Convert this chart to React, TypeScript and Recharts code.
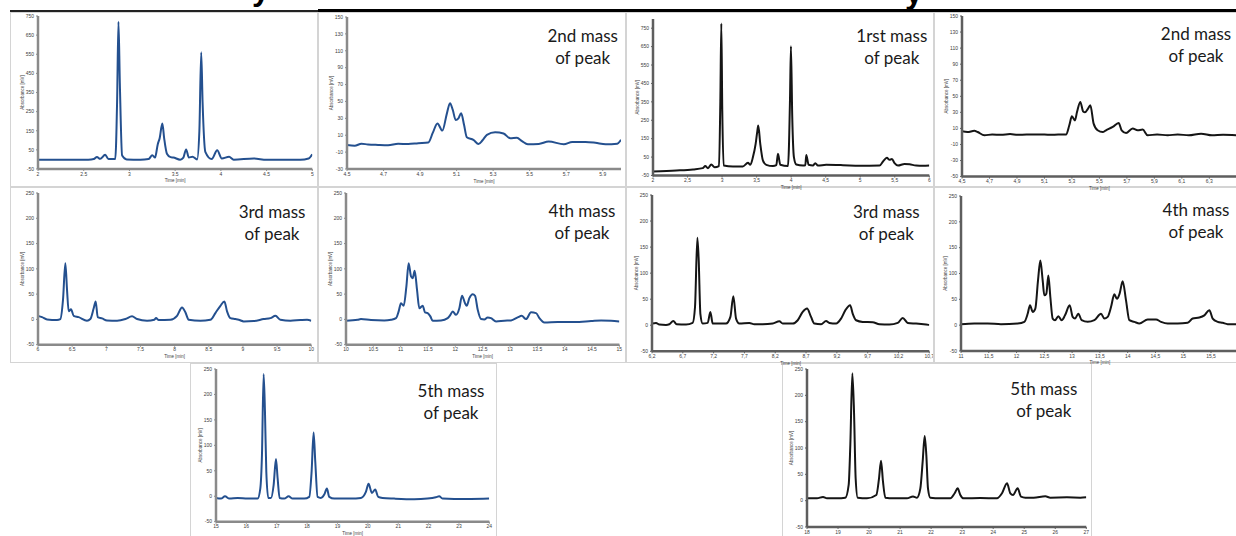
import React from "react";
import { LineChart, Line, XAxis, YAxis } from "recharts";

const BLUE = "#24508f";
const BLACK = "#151515";

// blue trace, first mass of peak (unlabelled panel)
const A_TIME = [2.0, 2.3, 2.55, 2.61, 2.645, 2.68, 2.735, 2.77, 2.845, 2.865, 2.88, 2.895, 2.92, 2.97, 3.12, 3.21, 3.25, 3.28, 3.31, 3.33, 3.36, 3.38, 3.41, 3.45, 3.48, 3.555, 3.59, 3.62, 3.65, 3.69, 3.74, 3.765, 3.785, 3.8, 3.83, 3.9, 3.96, 4.01, 4.09, 4.14, 4.36, 4.5, 4.87, 4.96, 5.0];
const A_ABS = [-1, -2, -1, 2, 13, 3, 25, 2, 2, 300, 720, 400, 20, 0, -1, 2, 22, 10, 80, 110, 188, 110, 30, 12, 10, -1, 10, 52, 10, 14, 0, 150, 560, 300, 40, 2, 48, 5, 14, -1, 5, -2, -2, 5, 27];

// blue trace, 2nd mass
const B_TIME = [4.5, 4.542, 4.579, 4.615, 4.67, 4.725, 4.78, 4.835, 4.89, 4.945, 4.97, 4.995, 5.022, 5.046, 5.064, 5.079, 5.095, 5.11, 5.125, 5.141, 5.156, 5.192, 5.22, 5.242, 5.266, 5.311, 5.357, 5.394, 5.43, 5.458, 5.49, 5.55, 5.604, 5.687, 5.733, 5.806, 5.86, 5.916, 5.98, 6.0];
const B_ABS = [-1.5, -2.5, 0, -1, -1.5, -1.8, 0, -0.5, 0.5, 1.3, 13, 24, 15.5, 35, 48, 40, 28, 30, 36, 22, 7.6, 4.5, -0.3, 4, 10.4, 13.5, 12, 6.4, 7, 3, -0.7, -0.3, 2.5, -0.7, 2, 2, 1, -0.7, 0, 4.5];

// black trace, 1rst mass
const C_TIME = [2.0, 2.338, 2.58, 2.72, 2.757, 2.796, 2.844, 2.892, 2.955, 2.975, 2.989, 3.003, 3.023, 3.158, 3.3, 3.375, 3.409, 3.447, 3.486, 3.51, 3.524, 3.553, 3.592, 3.64, 3.737, 3.785, 3.809, 3.843, 3.954, 3.983, 3.997, 4.016, 4.04, 4.074, 4.171, 4.205, 4.219, 4.253, 4.315, 4.349, 4.388, 4.508, 4.75, 4.99, 5.28, 5.33, 5.386, 5.425, 5.459, 5.497, 5.546, 5.642, 5.714, 5.81, 5.907, 6.0];
const C_ABS = [-28, -23, -17, -10, 1, -10, 10, -5, 1, 357, 775, 300, 4, -1, -1, 19, 8, 50, 122, 190, 221, 122, 31, 8, 1, 6, 68, 8, 1, 357, 652, 267, 50, 10, 4, 6, 62, 8, 4, 17, 4, 8, 6, 2.5, 4, 26, 46, 35, 40, 17, 4, 13, 11, 4, 3, 4];

// black trace, 2nd mass
const D_TIME = [4.5, 4.54, 4.59, 4.614, 4.663, 4.72, 4.784, 4.85, 4.905, 4.97, 5.026, 5.1, 5.148, 5.2, 5.257, 5.281, 5.3, 5.322, 5.337, 5.361, 5.382, 5.395, 5.415, 5.434, 5.458, 5.487, 5.524, 5.548, 5.597, 5.64, 5.662, 5.694, 5.742, 5.778, 5.815, 5.851, 5.92, 5.997, 6.07, 6.15, 6.24, 6.32, 6.4, 6.497];
const D_ABS = [6.4, 5.5, 7, 5.5, 1.4, 2.5, 2, 3, 2, 2.5, 2.3, 2.5, 2, 2.5, 2.3, 13.9, 25, 20, 30.4, 43, 31, 30, 34, 38.8, 16, 7.7, 5.5, 7.7, 11.8, 16.8, 7.7, 4.3, 9.8, 7.7, 8.5, 1.4, 2.5, 1.4, 2.5, 1.4, 3.5, 1.4, 2, 1.4];

// blue trace, 3rd mass
const E_TIME = [6.0, 6.059, 6.132, 6.278, 6.327, 6.366, 6.4, 6.425, 6.449, 6.483, 6.522, 6.595, 6.717, 6.766, 6.815, 6.844, 6.874, 6.937, 7.01, 7.157, 7.279, 7.376, 7.45, 7.596, 7.703, 7.728, 7.767, 7.938, 8.035, 8.108, 8.157, 8.206, 8.377, 8.523, 8.596, 8.67, 8.728, 8.767, 8.816, 8.889, 8.938, 9.011, 9.158, 9.304, 9.402, 9.475, 9.548, 9.694, 9.84, 9.938, 10.0];
const E_ABS = [7, 4.6, 0, -1, 0.7, 39, 111, 58, 16, 20, 7, 4.6, -2.6, 0.7, 22, 35.5, 4.6, 2, -2, -2.6, 0.7, 6, 0.7, -2.6, -0.7, 2.6, -1.3, -0.7, 7, 23.7, 14, -0.7, -2.6, -0.7, 12.5, 27, 35.5, 16, 2.6, 0.7, -0.7, -4, -3.3, 0.7, 2.6, 7, -0.7, -2.6, -1.3, -0.7, -2.6];

// blue trace, 4th mass
const F_TIME = [10.0, 10.213, 10.274, 10.457, 10.7, 10.823, 10.915, 10.963, 11.006, 11.055, 11.104, 11.146, 11.189, 11.22, 11.256, 11.299, 11.341, 11.402, 11.445, 11.494, 11.543, 11.585, 11.738, 11.86, 11.909, 11.951, 12.012, 12.073, 12.122, 12.177, 12.207, 12.256, 12.317, 12.36, 12.409, 12.47, 12.53, 12.591, 12.652, 12.744, 12.896, 13.018, 13.14, 13.213, 13.293, 13.384, 13.476, 13.537, 13.628, 13.872, 14.177, 14.482, 14.665, 14.848, 15.0];
const F_ABS = [-2.6, -0.7, 0.7, -1.3, -2, -0.7, 2.6, 15.8, 32, 27, 65, 111, 85, 81.6, 96, 58.5, 22, 27, 14, 12.5, 6, -2.6, -2, 2.6, 9, 15.8, 9, 22, 46.7, 32, 27, 42, 50, 46.7, 19, 0.7, 0, 4, 2.6, -4, -2.6, -2, 4, 7, 0.7, 14, 12.5, 2.6, -6, -5.3, -5.3, -3.3, -2, -2.6, -4];

// black trace, 3rd mass
const G_TIME = [6.2, 6.265, 6.319, 6.427, 6.481, 6.546, 6.6, 6.752, 6.86, 6.898, 6.936, 6.958, 6.985, 7.022, 7.104, 7.147, 7.185, 7.293, 7.401, 7.472, 7.52, 7.564, 7.618, 7.78, 7.861, 7.997, 8.159, 8.267, 8.321, 8.484, 8.565, 8.646, 8.716, 8.781, 8.835, 8.944, 9.025, 9.079, 9.187, 9.268, 9.339, 9.415, 9.458, 9.512, 9.62, 9.782, 9.891, 10.053, 10.188, 10.269, 10.35, 10.486, 10.648, 10.7];
const G_ABS = [3.2, 4.5, 1.3, 0.6, 1.9, 8.3, 1.9, 1.3, 4.5, 35, 168, 125, 22, 3.2, 4.5, 25.6, 3.2, 3.2, 3.2, 16, 55.8, 12.8, 3.2, 4.5, 1.9, 1.9, 3.2, 7.7, 3.2, 3.2, 9.6, 25.6, 32, 16, 3.2, 1.9, 8.3, 4.5, 3.2, 12.8, 29, 38.5, 22, 9.6, 6.4, 5.8, 1.9, 1.3, 4.5, 14, 4.5, 3.2, 1.3, 0.6];

// black trace, 4th mass
const H_TIME = [11.0, 11.24, 11.48, 11.72, 12.02, 12.14, 12.2, 12.242, 12.29, 12.338, 12.386, 12.428, 12.47, 12.5, 12.536, 12.572, 12.608, 12.65, 12.692, 12.752, 12.812, 12.872, 12.956, 13.01, 13.052, 13.112, 13.172, 13.28, 13.4, 13.52, 13.58, 13.64, 13.7, 13.76, 13.807, 13.855, 13.91, 13.97, 14.03, 14.12, 14.21, 14.36, 14.51, 14.6, 14.72, 14.9, 15.08, 15.17, 15.29, 15.38, 15.47, 15.53, 15.62, 15.71, 15.8, 15.955];
const H_ABS = [1.9, 3.2, 3.2, 1.9, 3.2, 6.4, 22, 38.5, 25.6, 32, 86.5, 125, 86.5, 57.7, 61, 96, 54.5, 12.8, 9.6, 17.3, 9.6, 19, 38.5, 16, 12.8, 22, 9.6, 6.4, 9.6, 22, 12.8, 16, 35, 59.6, 51, 61, 85, 48, 9.6, 6.4, 3.2, 11, 11, 6.4, 3.2, 3.2, 4.5, 12.8, 14.7, 19, 29, 12.8, 6.4, 4.5, 1.9, 1.9];

// blue trace, 5th mass
const I_TIME = [15.0, 15.164, 15.296, 15.439, 15.713, 16.042, 16.371, 16.458, 16.513, 16.568, 16.612, 16.656, 16.721, 16.809, 16.897, 16.974, 17.029, 17.094, 17.248, 17.39, 17.522, 17.906, 18.07, 18.147, 18.213, 18.268, 18.344, 18.454, 18.564, 18.651, 18.728, 18.893, 19.441, 19.77, 19.934, 20.022, 20.132, 20.241, 20.34, 20.482, 20.866, 21.524, 21.963, 22.237, 22.346, 22.456, 22.84, 23.388, 23.991];
const I_ABS = [-3.3, -4.6, 0, -4.6, -3.3, -4.6, -4.6, 15, 81, 240, 166, 48, -3.3, -3.3, 22, 73, 35, -3.3, -4.6, 0, -4.6, -4.6, -1.3, 48, 125, 68, -1.3, -3.3, 3.3, 15, -1.3, -4.6, -4.6, -3.3, 8.5, 24.3, 6.6, 13, -1.3, -3.3, -4.6, -5.9, -4.6, -2, 0, -4.6, -5.3, -5.3, -4.6];

// black trace, 5th mass
const J_TIME = [18.0, 18.322, 18.516, 18.644, 18.967, 19.235, 19.343, 19.396, 19.461, 19.515, 19.568, 19.633, 19.933, 20.234, 20.32, 20.385, 20.449, 20.524, 20.793, 21.222, 21.416, 21.545, 21.652, 21.727, 21.792, 21.845, 21.899, 21.974, 22.296, 22.619, 22.758, 22.855, 22.941, 23.048, 23.585, 24.122, 24.284, 24.445, 24.552, 24.638, 24.788, 24.896, 25.035, 25.304, 25.68, 25.841, 26.378, 26.808, 27.0];
const J_ABS = [4.4, 4.4, 7, 4.4, 4.4, 5.7, 30, 106, 242, 169, 42, 5.7, 4.4, 10.8, 42, 76, 36, 5.7, 4.4, 4.4, 8, 5.7, 23, 74, 123, 87, 23, 5.7, 4.4, 4.4, 14, 23.4, 10.8, 4.4, 5, 4.4, 14, 33, 14, 10.8, 23.4, 7.6, 5.7, 5.7, 8.2, 5.7, 6.3, 5.7, 6.3];

// axis ticks
const Y_750 = [-50, 50, 150, 250, 350, 450, 550, 650, 750];
const Y_250 = [-50, 0, 50, 100, 150, 200, 250];
const B_Y = [-30, -10, 10, 30, 50, 70, 90, 110, 130, 150];
const D_Y = [-50, -30, -10, 10, 30, 50, 70, 90, 110, 130, 150];
const A_X = [2, 2.5, 3, 3.5, 4, 4.5, 5];
const B_X = [4.5, 4.7, 4.9, 5.1, 5.3, 5.5, 5.7, 5.9];
const C_X = [2, 2.5, 3, 3.5, 4, 4.5, 5, 5.5, 6];
const D_X = [4.5, 4.7, 4.9, 5.1, 5.3, 5.5, 5.7, 5.9, 6.1, 6.3];
const E_X = [6, 6.5, 7, 7.5, 8, 8.5, 9, 9.5, 10];
const F_X = [10, 10.5, 11, 11.5, 12, 12.5, 13, 13.5, 14, 14.5, 15];
const G_X = [6.2, 6.7, 7.2, 7.7, 8.2, 8.7, 9.2, 9.7, 10.2, 10.7];
const H_X = [11, 11.5, 12, 12.5, 13, 13.5, 14, 14.5, 15, 15.5];
const I_X = [15, 16, 17, 18, 19, 20, 21, 22, 23, 24];
const J_X = [18, 19, 20, 21, 22, 23, 24, 25, 26, 27];

interface Panel {
  time: number[];
  abs: number[];
  color: string;
  x: number;
  y: number;
  w: number;
  h: number;
  xDomain: [number, number];
  xTicks: number[];
  yDomain: [number, number];
  yTicks: number[];
  comma: boolean;
  title?: string;
  cx?: number;
  base?: number;
}

const PANELS: Panel[] = [
  { time: A_TIME, abs: A_ABS, color: BLUE, x: 37.7, y: 15.7, w: 274.3, h: 153, xDomain: [2, 5], xTicks: A_X, yDomain: [-50, 750], yTicks: Y_750, comma: false },
  { time: B_TIME, abs: B_ABS, color: BLUE, x: 347, y: 16.7, w: 274, h: 152, xDomain: [4.5, 6], xTicks: B_X, yDomain: [-30, 150], yTicks: B_Y, comma: false, title: "2nd mass", cx: 582.7, base: 42.3 },
  { time: C_TIME, abs: C_ABS, color: BLACK, x: 652.7, y: 18.5, w: 276.3, h: 156.5, xDomain: [2, 6], xTicks: C_X, yDomain: [-50, 800], yTicks: Y_750, comma: true, title: "1rst mass", cx: 891.8, base: 42.3 },
  { time: D_TIME, abs: D_ABS, color: BLACK, x: 961.7, y: 15.7, w: 274.8, h: 160.6, xDomain: [4.5, 6.5], xTicks: D_X, yDomain: [-50, 150], yTicks: D_Y, comma: true, title: "2nd mass", cx: 1196, base: 40.5 },
  { time: E_TIME, abs: E_ABS, color: BLUE, x: 37.7, y: 193.3, w: 273.3, h: 151.7, xDomain: [6, 10], xTicks: E_X, yDomain: [-50, 250], yTicks: Y_250, comma: false, title: "3rd mass", cx: 272, base: 219 },
  { time: F_TIME, abs: F_ABS, color: BLUE, x: 346.3, y: 193.3, w: 273.4, h: 151.7, xDomain: [10, 15], xTicks: F_X, yDomain: [-50, 250], yTicks: Y_250, comma: false, title: "4th mass", cx: 582, base: 217.3 },
  { time: G_TIME, abs: G_ABS, color: BLACK, x: 652, y: 194.7, w: 277.3, h: 156.3, xDomain: [6.2, 10.7], xTicks: G_X, yDomain: [-50, 250], yTicks: Y_250, comma: true, title: "3rd mass", cx: 886.3, base: 219 },
  { time: H_TIME, abs: H_ABS, color: BLACK, x: 960.7, y: 195.7, w: 277.8, h: 155, xDomain: [11, 16], xTicks: H_X, yDomain: [-50, 250], yTicks: Y_250, comma: true, title: "4th mass", cx: 1196, base: 216.7 },
  { time: I_TIME, abs: I_ABS, color: BLUE, x: 216.3, y: 369.3, w: 273.4, h: 152.7, xDomain: [15, 24], xTicks: I_X, yDomain: [-50, 250], yTicks: Y_250, comma: false, title: "5th mass", cx: 451, base: 397.7 },
  { time: J_TIME, abs: J_ABS, color: BLACK, x: 806.7, y: 369.3, w: 279.3, h: 158, xDomain: [18, 27], xTicks: J_X, yDomain: [-50, 250], yTicks: Y_250, comma: true, title: "5th mass", cx: 1043.8, base: 396 },
];

// light grey frames round each panel
const BOXES = [
  [10, 12, 308, 175], [318, 12, 308, 175], [626, 12, 308, 175], [934, 12, 310, 175],
  [10, 187, 308, 176], [318, 187, 308, 176], [626, 187, 308, 176], [934, 187, 310, 176],
  [190, 363, 307, 180], [782, 363, 310, 180],
];

const YW = 30;
const XH = 22;
const TOP = 4;
const RIGHT = 4;
const TICK_FONT = "'Liberation Sans', Arial, sans-serif";

function Trace({ p }: { p: Panel }) {
  const data = p.time.map((t, i) => ({ t, v: p.abs[i] }));
  const axis = p.color === BLUE ? "#8a8a8a" : "#5e5e5e";
  const fmt = (v: number) => (p.comma ? String(v).replace(".", ",") : String(v));
  const tick = { fontSize: 5, fill: "#404040", fontFamily: TICK_FONT };

  return (
    <div style={{ position: "absolute", left: p.x - YW, top: p.y - TOP }}>
      <LineChart
        width={YW + p.w + RIGHT}
        height={TOP + p.h + XH}
        data={data}
        margin={{ top: TOP, right: RIGHT, left: 0, bottom: 0 }}
      >
        <XAxis
          type="number"
          dataKey="t"
          domain={p.xDomain}
          ticks={p.xTicks}
          interval={0}
          allowDataOverflow
          height={XH}
          tickSize={2}
          tickMargin={1}
          tick={tick}
          tickFormatter={fmt}
          axisLine={{ stroke: axis, strokeWidth: 2.5 }}
          tickLine={{ stroke: axis }}
          label={(lp: any) => {
            const vb = lp.viewBox;
            return (
              <text x={vb.x + vb.width / 2} y={vb.y + 13.5} textAnchor="middle" fontSize={4.5} fill="#404040" fontFamily={TICK_FONT}>
                Time [min]
              </text>
            );
          }}
        />
        <YAxis
          type="number"
          domain={p.yDomain}
          ticks={p.yTicks}
          interval={0}
          allowDataOverflow
          width={YW}
          tickSize={2}
          tickMargin={2}
          tick={tick}
          tickFormatter={fmt}
          axisLine={{ stroke: axis, strokeWidth: 2.5 }}
          tickLine={{ stroke: axis }}
          label={(lp: any) => {
            const vb = lp.viewBox;
            const x = vb.x + vb.width - 14;
            const y = vb.y + vb.height / 2;
            return (
              <text x={x} y={y} transform={`rotate(-90 ${x} ${y})`} textAnchor="middle" fontSize={4.5} fill="#404040" fontFamily={TICK_FONT}>
                Absorbance [mV]
              </text>
            );
          }}
        />
        <Line
          type="monotone"
          dataKey="v"
          stroke={p.color}
          strokeWidth={2}
          dot={false}
          isAnimationActive={false}
        />
      </LineChart>
    </div>
  );
}

export default function App() {
  return (
    <div
      style={{
        position: "absolute",
        left: 0,
        top: 0,
        width: 1236,
        height: 536,
        overflow: "hidden",
        background: "#fff",
      }}
    >
      {BOXES.map(([l, t, w, h], i) => (
        <div
          key={`box-${i}`}
          style={{ position: "absolute", left: l, top: t, width: w, height: h, border: "1px solid #d4d4d4", boxSizing: "border-box" }}
        />
      ))}
      <div style={{ position: "absolute", left: 10, top: 10, width: 308, height: 2, background: "#222" }} />
      <div style={{ position: "absolute", left: 318, top: 9, width: 918, height: 3, background: "#000" }} />
      <span style={{ position: "absolute", left: 252, top: -27, fontSize: 32, lineHeight: "32px", fontWeight: 700, fontFamily: "'Liberation Sans', Arial, sans-serif", color: "#000" }}>y</span>
      <span style={{ position: "absolute", left: 905, top: -24, fontSize: 32, lineHeight: "32px", fontWeight: 700, fontFamily: "'Liberation Sans', Arial, sans-serif", color: "#000" }}>y</span>
      {PANELS.map((p, i) => (
        <Trace key={`panel-${i}`} p={p} />
      ))}
      {PANELS.filter((p) => p.title).map((p, i) => (
        <div
          key={`title-${i}`}
          style={{
            position: "absolute",
            left: (p.cx as number) - 60,
            top: (p.base as number) - 17.6,
            width: 120,
            textAlign: "center",
            fontFamily: "Lato, 'Open Sans', sans-serif",
            fontSize: 17,
            lineHeight: "22px",
            color: "#1a1a1a",
          }}
        >
          {p.title}
          <br />
          of peak
        </div>
      ))}
    </div>
  );
}
